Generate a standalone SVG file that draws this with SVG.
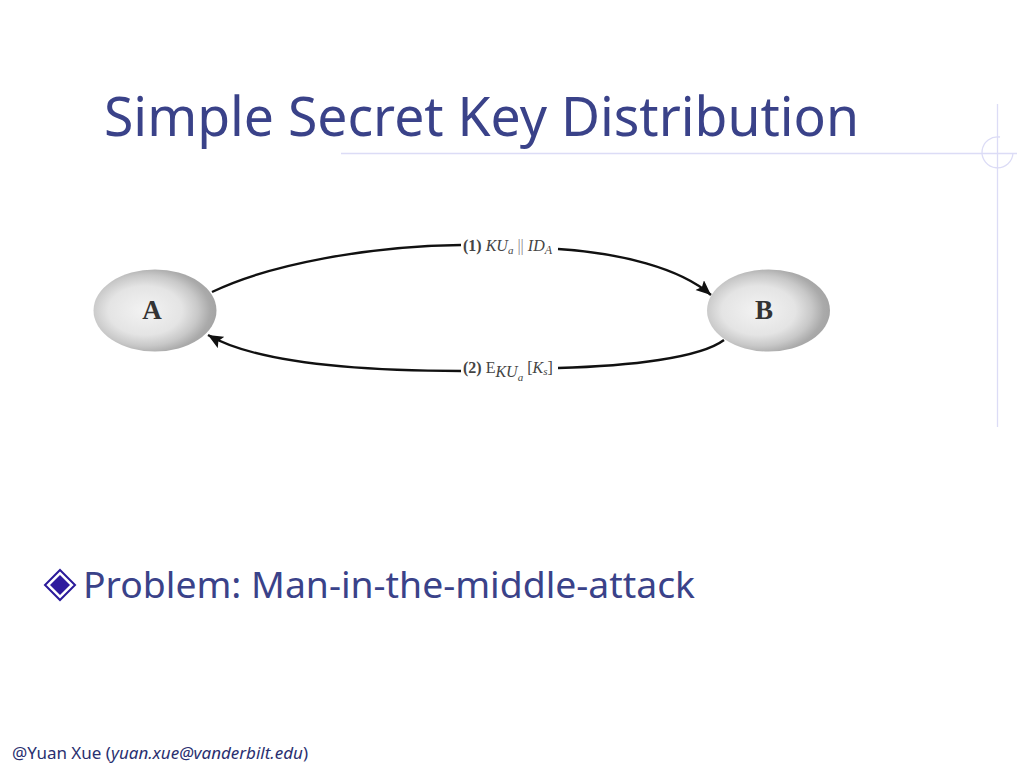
<svg xmlns="http://www.w3.org/2000/svg" width="1024" height="768" viewBox="0 0 1024 768">
<style>
.t{font-family:"Noto Sans","DejaVu Sans",sans-serif;fill:#3a4289}
.s{font-family:"Liberation Serif",serif;fill:#444}
.i{font-style:italic}
.b{font-weight:bold}
.n{font-family:"Liberation Serif",serif;font-weight:bold;font-size:27px;fill:#333;text-anchor:middle}
.c{fill:none;stroke:#111;stroke-width:2.4}
.d{stroke:#dcdcf6;stroke-width:1.3;fill:none}
</style>
<defs>
<radialGradient id="g" cx="0.42" cy="0.5" r="0.6">
<stop offset="0" stop-color="#f3f3f3"/><stop offset="0.5" stop-color="#e4e4e4"/><stop offset="0.72" stop-color="#c8c8c8"/><stop offset="0.88" stop-color="#aaaaaa"/><stop offset="1" stop-color="#a2a2a2"/>
</radialGradient>
<marker id="a" markerUnits="userSpaceOnUse" markerWidth="18" markerHeight="14" refX="15" refY="6.500" orient="auto"><path d="M0 0L15 6.500L0 13L3 6.500Z" fill="#111"/></marker>
</defs>
<rect width="1024" height="768" fill="#fff"/>
<g id="decor">
<line class="d" x1="341" y1="153.500" x2="1017" y2="153.500"/>
<line class="d" x1="997.500" y1="104" x2="997.500" y2="427"/>
<path class="d" d="M1000 137A15.500 15.500 0 1 0 1013 153"/>
</g>
<text id="title" class="t" x="104" y="136" font-size="55" textLength="755" lengthAdjust="spacingAndGlyphs">Simple Secret Key Distribution</text>
<g id="connectors">
<path class="c" d="M212 292C270 264 370 246 461 245"/>
<path class="c" marker-end="url(#a)" d="M558 249C620 253 680 268 711 295"/>
<path class="c" d="M724 340C700 358 630 366 558 368"/>
<path class="c" marker-end="url(#a)" d="M461 371C370 371 260 365 208 335"/>
</g>
<g id="node-a">
<ellipse cx="155" cy="310.500" rx="61.500" ry="41" fill="url(#g)"/>
<text class="n" x="152" y="319">A</text>
</g>
<g id="node-b">
<ellipse cx="768.500" cy="310.500" rx="61.500" ry="41" fill="url(#g)"/>
<text class="n" x="764" y="319">B</text>
</g>
<g id="label-1">
<text class="s" x="463" y="251" font-size="16"><tspan class="b">(1)</tspan> <tspan class="i">KU</tspan><tspan class="i" font-size="11" dy="3">a</tspan><tspan dy="-3" fill="#888"> || </tspan><tspan class="i">ID</tspan><tspan class="i" font-size="12" dy="3">A</tspan></text>
</g>
<g id="label-2">
<text class="s" x="463" y="373" font-size="16"><tspan class="b">(2)</tspan> E<tspan class="i" dy="4">KU</tspan><tspan class="i" font-size="11" dy="4">a</tspan><tspan dy="-8"> [</tspan><tspan class="i">K</tspan><tspan class="i" font-size="11" dy="2">s</tspan><tspan dy="-2">]</tspan></text>
</g>
<g id="bullet">
<path d="M60 570L75 585L60 600L45 585Z" fill="#fff" stroke="#2a1a9a" stroke-width="2"/>
<path d="M60 575L70 585L60 595L50 585Z" fill="#2e1a9e"/>
</g>
<text id="problem" class="t" x="83" y="598" font-size="36" textLength="612" lengthAdjust="spacingAndGlyphs">Problem: Man-in-the-middle-attack</text>
<text id="footer" class="t" x="12" y="759" font-size="16.500" textLength="296" lengthAdjust="spacingAndGlyphs" style="fill:#2a3070">@Yuan Xue (<tspan class="i">yuan.xue@vanderbilt.edu</tspan>)</text>
</svg>
